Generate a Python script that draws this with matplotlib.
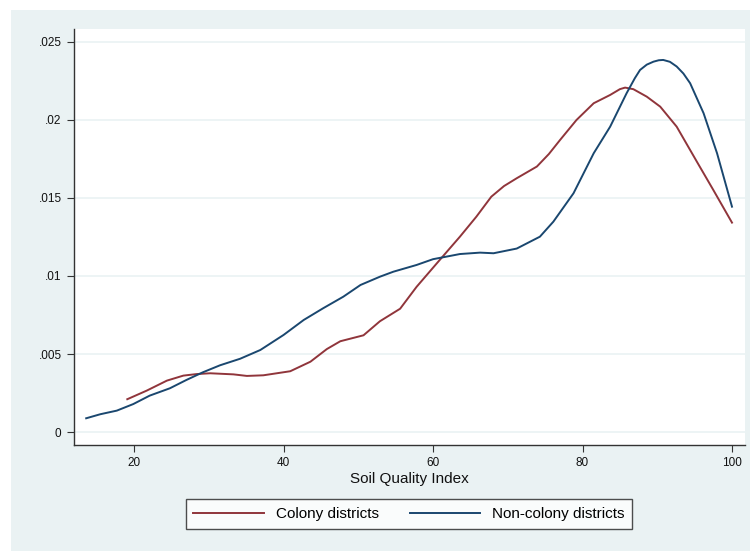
import matplotlib

matplotlib.use("Agg")
import matplotlib.pyplot as plt
from matplotlib.patches import Rectangle

plt.rcParams["font.family"] = ["Liberation Sans", "DejaVu Sans"]

# kernel density of soil quality index
colony_x = [19.1, 21.7, 24.4, 26.6, 28.4, 30.2, 33.3, 35.1, 37.3, 39.1, 40.9,
            43.6, 45.8, 47.6, 50.7, 52.9, 55.6, 57.8, 60.5, 63.6, 65.8, 67.8,
            69.5, 71.2, 73.9, 75.5, 77.0, 79.2, 81.5, 83.7, 85.0, 85.7, 86.8,
            88.6, 90.4, 92.6, 95.3, 97.5, 100.0]
colony_y = [0.00211, 0.00266, 0.0033, 0.00362, 0.00372, 0.00377, 0.0037, 0.0036,
            0.00364, 0.00377, 0.0039, 0.00451, 0.00532, 0.00582, 0.0062, 0.0071,
            0.0079, 0.0093, 0.0108, 0.01251, 0.01379, 0.01507, 0.01575, 0.01625,
            0.017, 0.0178, 0.0187, 0.01998, 0.02105, 0.02158, 0.02195, 0.02205,
            0.02195, 0.02147, 0.02083, 0.01955, 0.01731, 0.0155, 0.01341]

noncolony_x = [13.6, 15.5, 17.7, 19.9, 22.1, 24.8, 27.0, 29.2, 31.5, 34.2, 36.9,
               40.0, 42.7, 45.3, 48.0, 50.3, 52.9, 54.7, 57.8, 60.0, 62.3, 63.6,
               66.3, 68.1, 71.2, 74.3, 76.1, 78.8, 81.5, 83.7, 85.9, 87.0, 87.7,
               88.6, 89.5, 90.2, 90.8, 91.7, 92.6, 93.5, 94.4, 96.2, 98.0, 100.0]
noncolony_y = [0.00089, 0.00115, 0.00138, 0.0018, 0.00234, 0.00281, 0.00334,
               0.00383, 0.00428, 0.0047, 0.00526, 0.00622, 0.00718, 0.00793,
               0.00867, 0.00942, 0.00995, 0.01027, 0.0107, 0.01107, 0.01128,
               0.0114, 0.01149, 0.01145, 0.01175, 0.01251, 0.01347, 0.01529,
               0.01785, 0.01955, 0.02169, 0.02265, 0.02318, 0.02352, 0.02371,
               0.02380, 0.02382, 0.02370, 0.0234, 0.02295, 0.02233, 0.02041,
               0.01785, 0.01443]

x_ticks = [20, 40, 60, 80, 100]
y_ticks = [0, 0.005, 0.01, 0.015, 0.02, 0.025]
y_tick_labels = ["0", ".005", ".01", ".015", ".02", ".025"]

BG = "#eaf2f3"
MAROON = "#90353b"
NAVY = "#1a476f"

fig = plt.figure(figsize=(7.5, 5.51), dpi=100, facecolor="white")
fig.patches.append(Rectangle((11 / 750, 0), 1, 541 / 551, transform=fig.transFigure,
                             facecolor=BG, edgecolor="none", zorder=-10))

ax = fig.add_axes([74 / 750, 106 / 551, 671 / 750, 416 / 551])
ax.set_facecolor("white")

ax.plot(colony_x, colony_y, color=MAROON, linewidth=1.4, label="Colony districts")
ax.plot(noncolony_x, noncolony_y, color=NAVY, linewidth=1.4, label="Non-colony districts")

ax.set_xlim(11.97, 101.74)
ax.set_ylim(-0.00082, 0.0258)
ax.set_xticks(x_ticks)
ax.set_yticks(y_ticks)
ax.set_yticklabels(y_tick_labels)
ax.grid(axis="y", color=BG, linewidth=1.2)
ax.set_axisbelow(True)

for side in ("top", "right"):
    ax.spines[side].set_visible(False)
for side in ("left", "bottom"):
    ax.spines[side].set_color("#333333")
    ax.spines[side].set_linewidth(1.0)
ax.tick_params(axis="both", direction="out", length=5, width=0.8, color="#333333",
               labelsize=8.5, labelcolor="#111111", pad=4)

ax.set_xlabel("Soil Quality Index", fontsize=11, color="#111111", labelpad=2)

leg = fig.legend(loc="center", bbox_to_anchor=(409 / 750, 37 / 551), ncol=2,
                 fontsize=11, frameon=True, fancybox=False, handlelength=4.6,
                 handletextpad=0.8, columnspacing=2.0, borderpad=0.5)
leg.get_frame().set_edgecolor("#222222")
leg.get_frame().set_linewidth(1.0)
leg.get_frame().set_facecolor("white")

fig.savefig("out.png", dpi=100, facecolor=fig.get_facecolor())
